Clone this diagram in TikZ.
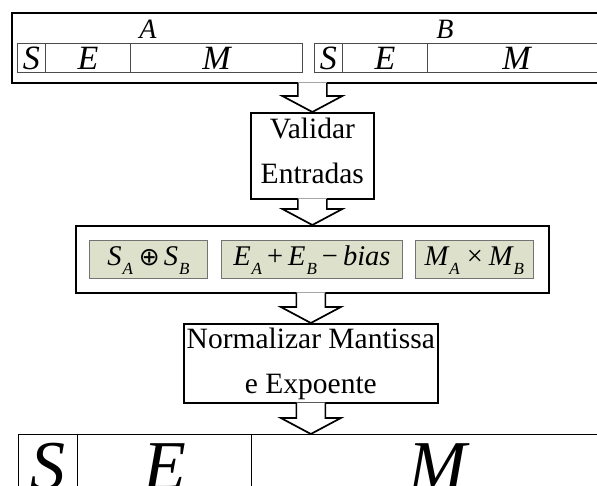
\documentclass[tikz,border=0pt]{standalone}
\usepackage{fontspec}
\setmainfont{Liberation Serif}
\newfontfamily\dejavu{DejaVu Sans}
\usetikzlibrary{calc}
\newcommand\mysub[1]{\kern1pt\raisebox{-9.5pt}{\fontsize{17}{17}\selectfont\itshape #1}}
\newcommand\fatarrow[3]{%
  \path[fill=white] let \p1=(#1.south), \p2=(#2.north), \p3=(#3.center) in
    (\x3-14.5pt,\y1+1.2pt) -- (\x3-14.5pt,\y2+16pt) -- (\x3-30pt,\y2+16pt) -- (\x3,\y2)
    -- (\x3+30pt,\y2+16pt) -- (\x3+14.5pt,\y2+16pt) -- (\x3+14.5pt,\y1+1.2pt) -- cycle;
  \draw[arrowline] let \p1=(#1.south), \p2=(#2.north), \p3=(#3.center) in
    (\x3-14.5pt,\y1+0.8pt) -- (\x3-14.5pt,\y2+16pt) -- (\x3-30pt,\y2+16pt) -- (\x3,\y2)
    -- (\x3+30pt,\y2+16pt) -- (\x3+14.5pt,\y2+16pt) -- (\x3+14.5pt,\y1+0.8pt);
}
\definecolor{gfill}{RGB}{221,224,202}
\tikzset{
  frame/.style={draw=black, line width=1.7pt, inner sep=0pt, anchor=north west},
  lbl/.style={anchor=base, inner sep=0pt, font=\fontsize{28}{28}\selectfont\itshape},
  cell/.style={draw=black!70, line width=0.9pt, inner sep=0pt, anchor=north west,
    minimum height=29pt, text height=26pt, text depth=3pt,
    font=\fontsize{34}{34}\selectfont\itshape},
  bigcell/.style={draw=black, line width=1.4pt, inner sep=0pt, anchor=north west,
    minimum height=86pt, text height=55pt, text depth=31pt,
    font=\fontsize{70}{70}\selectfont\itshape},
  twoline/.style={align=center, font=\fontsize{29.5}{45}\selectfont, text height=65pt},
  gbox/.style={draw=black!55, fill=gfill, line width=0.8pt, inner sep=0pt, anchor=north west,
    minimum height=38pt, text height=20pt, text depth=8pt,
    font=\fontsize{28.5}{28.5}\selectfont\itshape},
  arrowline/.style={draw=black, line width=1.7pt, line join=miter},
}
\begin{document}
\begin{tikzpicture}[x=1pt,y=-1pt]
\useasboundingbox (0,0) rectangle (597,486);
\clip (0,0) rectangle (597,486);
\fill[white] (0,0) rectangle (597,486);
% top inputs
\node[frame, minimum width=620pt, minimum height=70pt] (top) at (11,12) {};
\node[lbl] (lA) at (148,39) {A};
\node[lbl] (lB) at (445,39) {B};
\node[cell, minimum width=28pt] (aS) at (17,43) {S};
\node[cell, minimum width=85pt] (aE) at (45,43) {E};
\node[cell, minimum width=172pt] (aM) at (130,43) {M};
\node[cell, minimum width=28pt] (bS) at (314,43) {S};
\node[cell, minimum width=85pt] (bE) at (342,43) {E};
\node[cell, minimum width=178pt] (bM) at (427,43) {M};
% validate
\node[frame, twoline, minimum width=123pt, minimum height=86pt, text depth=9pt] (val) at (250,112) {Validar\\Entradas};
% operations
\node[frame, minimum width=473pt, minimum height=67pt] (ops) at (75,225) {};
\node[gbox, minimum width=118pt] (g1) at (89,240) {S\mysub{A}\kern6pt{\dejavu\upshape\fontsize{25}{25}\selectfont ⊕}\kern4pt S\mysub{B}};
\node[gbox, minimum width=181pt] (g2) at (221,240) {E\mysub{A}\kern5pt{\upshape +}\kern5pt E\mysub{B}\kern5pt{\upshape −}\kern5pt bias};
\node[gbox, minimum width=118pt] (g3) at (415,240) {M\mysub{A}\kern7pt{\upshape ×}\kern6pt M\mysub{B}};
% normalize
\node[frame, twoline, minimum width=254pt, minimum height=79pt, text depth=4pt] (norm) at (183,323) {Normalizar Mantissa\\e Expoente};
% result
\node[bigcell, minimum width=59pt] (rS) at (18,434) {S};
\node[bigcell, minimum width=174pt] (rE) at (77,434) {E};
\node[bigcell, minimum width=371pt] (rM) at (251,434) {M};
% arrows
\fatarrow{top}{val}{val}
\fatarrow{val}{ops}{val}
\fatarrow{ops}{norm}{norm}
\fatarrow{norm}{rM}{norm}
\end{tikzpicture}
\end{document}
